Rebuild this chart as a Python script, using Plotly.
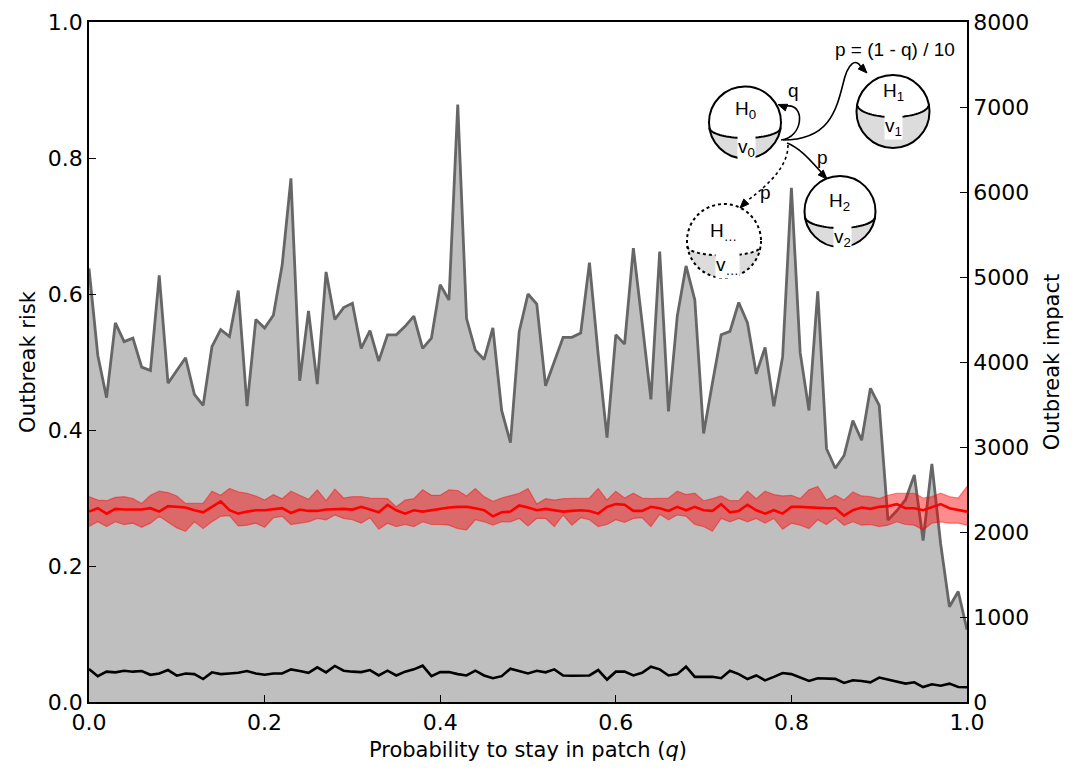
import math
import plotly.graph_objects as go

# ---------------- data ----------------
q = [0.00, 0.01, 0.02, 0.03, 0.04, 0.05, 0.06, 0.07, 0.08, 0.09,
     0.10, 0.11, 0.12, 0.13, 0.14, 0.15, 0.16, 0.17, 0.18, 0.19,
     0.20, 0.21, 0.22, 0.23, 0.24, 0.25, 0.26, 0.27, 0.28, 0.29,
     0.30, 0.31, 0.32, 0.33, 0.34, 0.35, 0.36, 0.37, 0.38, 0.39,
     0.40, 0.41, 0.42, 0.43, 0.44, 0.45, 0.46, 0.47, 0.48, 0.49,
     0.50, 0.51, 0.52, 0.53, 0.54, 0.55, 0.56, 0.57, 0.58, 0.59,
     0.60, 0.61, 0.62, 0.63, 0.64, 0.65, 0.66, 0.67, 0.68, 0.69,
     0.70, 0.71, 0.72, 0.73, 0.74, 0.75, 0.76, 0.77, 0.78, 0.79,
     0.80, 0.81, 0.82, 0.83, 0.84, 0.85, 0.86, 0.87, 0.88, 0.89,
     0.90, 0.91, 0.92, 0.93, 0.94, 0.95, 0.96, 0.97, 0.98, 0.99,
     1.00]

impact = [5100, 4080, 3580, 4460, 4240, 4280, 3940, 3900, 5020, 3750,
          3900, 4050, 3620, 3490, 4180, 4380, 4300, 4840, 3480, 4500,
          4400, 4550, 5140, 6160, 3780, 4600, 3740, 5060, 4500, 4640,
          4690, 4160, 4370, 4010, 4320, 4320, 4420, 4540, 4160, 4280,
          4910, 4730, 7030, 4510, 4140, 4030, 4400, 3430, 3050, 4360,
          4800, 4680, 3720, 4000, 4290, 4290, 4340, 5170, 4080, 3110,
          4320, 4210, 5340, 4460, 3560, 5300, 3420, 4540, 5130, 4730,
          3160, 3750, 4320, 4360, 4700, 4460, 3860, 4170, 3480, 4060,
          6050, 4110, 3430, 4830, 2980, 2750, 2900, 3310, 3080, 3690,
          3490, 2140, 2250, 2380, 2670, 1900, 2800, 1860, 1120, 1300,
          850]

risk_mean = [0.280, 0.285, 0.277, 0.284, 0.283, 0.283, 0.283, 0.285, 0.280, 0.288,
             0.287, 0.286, 0.282, 0.279, 0.287, 0.295, 0.282, 0.277, 0.280, 0.282,
             0.282, 0.283, 0.285, 0.278, 0.283, 0.281, 0.281, 0.283, 0.284, 0.284,
             0.283, 0.287, 0.283, 0.279, 0.290, 0.282, 0.277, 0.282, 0.280, 0.282,
             0.285, 0.286, 0.287, 0.287, 0.285, 0.282, 0.273, 0.279, 0.280, 0.289,
             0.286, 0.282, 0.284, 0.282, 0.280, 0.281, 0.282, 0.281, 0.277, 0.287,
             0.291, 0.290, 0.281, 0.281, 0.287, 0.285, 0.281, 0.287, 0.282, 0.287,
             0.282, 0.281, 0.291, 0.279, 0.281, 0.290, 0.282, 0.277, 0.282, 0.277,
             0.287, 0.287, 0.286, 0.285, 0.285, 0.285, 0.274, 0.282, 0.286, 0.284,
             0.287, 0.288, 0.291, 0.285, 0.285, 0.282, 0.287, 0.291, 0.285, 0.283,
             0.280]

risk_upper = [0.302, 0.297, 0.296, 0.301, 0.302, 0.299, 0.292, 0.304, 0.310, 0.308,
              0.303, 0.292, 0.292, 0.292, 0.310, 0.304, 0.314, 0.309, 0.307, 0.303,
              0.297, 0.305, 0.299, 0.310, 0.304, 0.298, 0.312, 0.296, 0.313, 0.300,
              0.302, 0.302, 0.300, 0.300, 0.299, 0.287, 0.297, 0.299, 0.312, 0.304,
              0.304, 0.312, 0.311, 0.303, 0.314, 0.302, 0.295, 0.300, 0.303, 0.307,
              0.314, 0.291, 0.299, 0.297, 0.299, 0.299, 0.300, 0.300, 0.314, 0.297,
              0.310, 0.300, 0.307, 0.300, 0.299, 0.299, 0.300, 0.310, 0.305, 0.307,
              0.296, 0.299, 0.303, 0.296, 0.296, 0.310, 0.299, 0.310, 0.305, 0.303,
              0.304, 0.299, 0.312, 0.317, 0.297, 0.304, 0.297, 0.309, 0.303, 0.302,
              0.299, 0.304, 0.307, 0.307, 0.307, 0.300, 0.302, 0.307, 0.302, 0.300,
              0.317]

risk_lower = [0.258, 0.265, 0.258, 0.265, 0.261, 0.263, 0.257, 0.263, 0.273, 0.265,
              0.256, 0.251, 0.265, 0.255, 0.265, 0.273, 0.274, 0.259, 0.260, 0.263,
              0.257, 0.271, 0.273, 0.261, 0.263, 0.265, 0.270, 0.268, 0.275, 0.270,
              0.268, 0.263, 0.271, 0.254, 0.263, 0.258, 0.261, 0.258, 0.265, 0.261,
              0.261, 0.260, 0.255, 0.253, 0.268, 0.265, 0.260, 0.265, 0.265, 0.270,
              0.259, 0.270, 0.270, 0.258, 0.275, 0.260, 0.271, 0.268, 0.258, 0.261,
              0.268, 0.264, 0.270, 0.271, 0.258, 0.276, 0.268, 0.275, 0.273, 0.261,
              0.258, 0.251, 0.270, 0.265, 0.270, 0.265, 0.270, 0.263, 0.270, 0.254,
              0.263, 0.260, 0.255, 0.268, 0.261, 0.271, 0.260, 0.265, 0.260, 0.261,
              0.258, 0.260, 0.265, 0.261, 0.260, 0.253, 0.263, 0.265, 0.263, 0.263,
              0.260]

risk_low = [0.0485, 0.038, 0.0446, 0.0436, 0.046, 0.0446, 0.0455, 0.040, 0.042, 0.047,
            0.0387, 0.042, 0.041, 0.0338, 0.0436, 0.041, 0.042, 0.043, 0.0455, 0.042,
            0.040, 0.042, 0.042, 0.048, 0.0455, 0.043, 0.051, 0.0436, 0.053, 0.046,
            0.0446, 0.044, 0.047, 0.039, 0.046, 0.039, 0.0446, 0.048, 0.0534, 0.038,
            0.044, 0.044, 0.041, 0.039, 0.046, 0.039, 0.035, 0.038, 0.049, 0.046,
            0.042, 0.046, 0.0436, 0.048, 0.039, 0.0387, 0.039, 0.039, 0.047, 0.033,
            0.0446, 0.0446, 0.039, 0.043, 0.052, 0.048, 0.039, 0.041, 0.052, 0.037,
            0.037, 0.037, 0.035, 0.046, 0.041, 0.0338, 0.039, 0.0318, 0.037, 0.0426,
            0.041, 0.036, 0.031, 0.035, 0.035, 0.034, 0.028, 0.032, 0.031, 0.029,
            0.036, 0.033, 0.030, 0.027, 0.029, 0.022, 0.026, 0.024, 0.027, 0.022,
            0.0216]

x_ticks = [0.0, 0.2, 0.4, 0.6, 0.8, 1.0]
risk_ticks = [0.0, 0.2, 0.4, 0.6, 0.8, 1.0]
impact_ticks = [0, 1000, 2000, 3000, 4000, 5000, 6000, 7000, 8000]

# ---------------- layout constants ----------------
OFF = 8                          # page body margin of the browser
W, H = 1081 - 2 * OFF, 770 - 2 * OFF
L, R, T, B = 89, 967, 22, 702    # plot area in window pixels

AX_FONT = dict(family="DejaVu Sans", size=22, color="black")
TT_FONT = dict(family="DejaVu Sans", size=21, color="black")
DG_FONT = dict(family="Liberation Sans, Arial", size=19, color="black")


def px(x):
    return (x - L) / (R - L)


def py(y):
    return (B - y) / (B - T)


def pt(x, y):
    return f"{px(x):.5f},{py(y):.5f}"


fig = go.Figure()

# impact (gray filled area) on primary (right) axis
fig.add_trace(go.Scatter(
    x=q, y=impact, mode="lines", fill="tozeroy",
    fillcolor="#bfbfbf", line=dict(color="#666666", width=2.8),
    yaxis="y", hoverinfo="skip"))

# risk band on secondary (left) axis
fig.add_trace(go.Scatter(
    x=q, y=risk_lower, mode="lines",
    line=dict(color="rgba(255,0,0,0.45)", width=1.2),
    yaxis="y2", hoverinfo="skip"))
fig.add_trace(go.Scatter(
    x=q, y=risk_upper, mode="lines", fill="tonexty",
    fillcolor="rgba(255,0,0,0.45)",
    line=dict(color="rgba(255,0,0,0.45)", width=1.2),
    yaxis="y2", hoverinfo="skip"))
fig.add_trace(go.Scatter(
    x=q, y=risk_mean, mode="lines",
    line=dict(color="#ff0000", width=2.6), yaxis="y2", hoverinfo="skip"))
fig.add_trace(go.Scatter(
    x=q, y=risk_low, mode="lines",
    line=dict(color="black", width=2.6), yaxis="y2", hoverinfo="skip"))

# ---------------- inset diagram ----------------
shapes = []
annotations = []


def sphere(cx, cy, r, ye, ry, dotted=False):
    dash = "dot" if dotted else "solid"
    lw = 2.0
    shapes.append(dict(type="circle", xref="paper", yref="paper",
                       x0=px(cx - r), x1=px(cx + r), y0=py(cy + r), y1=py(cy - r),
                       fillcolor="white", line=dict(width=0)))
    th = math.asin((ye - cy) / r)
    a = r * math.cos(th)
    pts = []
    n = 40
    for k in range(n + 1):
        t = math.pi - math.pi * k / n
        pts.append((cx + a * math.cos(t), ye + ry * math.sin(t)))
    ell = list(pts)
    for k in range(n + 1):
        t = th + (math.pi - 2 * th) * k / n
        pts.append((cx + r * math.cos(t), cy + r * math.sin(t)))
    path = "M " + " L ".join(pt(x, y) for x, y in pts) + " Z"
    shapes.append(dict(type="path", xref="paper", yref="paper", path=path,
                       fillcolor="#dcdcdc", line=dict(width=0)))
    path = "M " + " L ".join(pt(x, y) for x, y in ell)
    shapes.append(dict(type="path", xref="paper", yref="paper", path=path,
                       line=dict(color="black", width=lw, dash=dash)))
    shapes.append(dict(type="circle", xref="paper", yref="paper",
                       x0=px(cx - r), x1=px(cx + r), y0=py(cy + r), y1=py(cy - r),
                       line=dict(color="black", width=lw, dash=dash)))


def curve(path_pts, dotted=False):
    (x0, y0), rest = path_pts[0], path_pts[1:]
    s = f"M {pt(x0, y0)}"
    for i in range(0, len(rest), 3):
        s += " C " + " ".join(pt(x, y) for x, y in rest[i:i + 3])
    shapes.append(dict(type="path", xref="paper", yref="paper", path=s,
                       line=dict(color="black", width=1.6,
                                 dash="dot" if dotted else "solid")))


def head(tx, ty, dx, dy, size=9, wid=7):
    n = math.hypot(dx, dy)
    dx, dy = dx / n, dy / n
    bx, by = tx - dx * size, ty - dy * size
    ox, oy = -dy * wid / 2, dx * wid / 2
    s = f"M {pt(tx, ty)} L {pt(bx + ox, by + oy)} L {pt(bx - ox, by - oy)} Z"
    shapes.append(dict(type="path", xref="paper", yref="paper", path=s,
                       fillcolor="black", line=dict(color="black", width=1)))


def label(x, y, text, bg=None):
    d = dict(x=px(x), y=py(y), xref="paper", yref="paper", text=text,
             showarrow=False, font=DG_FONT, xanchor="center", yanchor="middle")
    if bg:
        d.update(bgcolor=bg, borderpad=0)
    annotations.append(d)


sphere(745, 122.5, 36, 127.5, 10.5)
sphere(893, 111.5, 36.5, 104.5, 12.5)
sphere(840, 211.5, 35.5, 216.5, 11.5)
sphere(724, 241, 37, 246.5, 9, dotted=True)

curve([(781, 140), (803, 138), (806, 104), (787, 106)])
head(778, 104.5, -0.94, -0.34)
curve([(783, 140), (828, 140), (836, 112), (843, 84), (848, 62), (856, 58), (861, 67)])
head(867, 73, 0.7, 0.72)
curve([(787, 143), (800, 148), (810, 160), (821, 172)])
head(827, 179, 0.7, 0.72)
curve([(788, 145), (788, 165), (772, 182), (747, 201)], dotted=True)
head(740, 208, -0.7, 0.72)

label(745, 110, "H<sub>0</sub>")
label(746.5, 148, "v<sub>0</sub>", bg="white")
label(893, 92, "H<sub>1</sub>")
label(893, 127, "v<sub>1</sub>", bg="white")
label(839, 202, "H<sub>2</sub>")
label(842, 238, "v<sub>2</sub>", bg="white")
label(723, 232, "H<sub>…</sub>")
label(727, 266, "v<sub>…</sub>", bg="white")
label(793, 91, "q")
label(822, 158, "p")
label(765, 192, "p")
label(895, 50, "p = (1 - q) / 10")

# ---------------- layout ----------------
axis_common = dict(showgrid=False, zeroline=False, showline=True,
                   linecolor="black", linewidth=1.6, ticks="inside",
                   ticklen=7, tickwidth=1.4, tickcolor="black",
                   tickfont=AX_FONT, automargin=False)

fig.update_layout(
    width=W, height=H,
    margin=dict(l=L - OFF, r=(1081 - OFF) - R, t=T - OFF, b=(770 - OFF) - B),
    paper_bgcolor="white", plot_bgcolor="white",
    showlegend=False,
    xaxis=dict(range=[0, 1], tickvals=x_ticks, ticktext=[f"{v:.1f}" for v in x_ticks],
               mirror=True,
               title=dict(text="Probability to stay in patch (<i>q</i>)",
                          font=TT_FONT, standoff=9),
               **axis_common),
    yaxis=dict(range=[0, 8000], tickvals=impact_ticks,
               ticktext=[str(v) for v in impact_ticks], side="right",
               title=dict(text="Outbreak impact", font=TT_FONT, standoff=16),
               **axis_common),
    yaxis2=dict(range=[0, 1], tickvals=risk_ticks,
                ticktext=[f"{v:.1f}" for v in risk_ticks], side="left",
                overlaying="y",
                title=dict(text="Outbreak risk", font=TT_FONT, standoff=6),
                **axis_common),
    shapes=shapes,
    annotations=annotations,
)

fig.write_html("out.html")
